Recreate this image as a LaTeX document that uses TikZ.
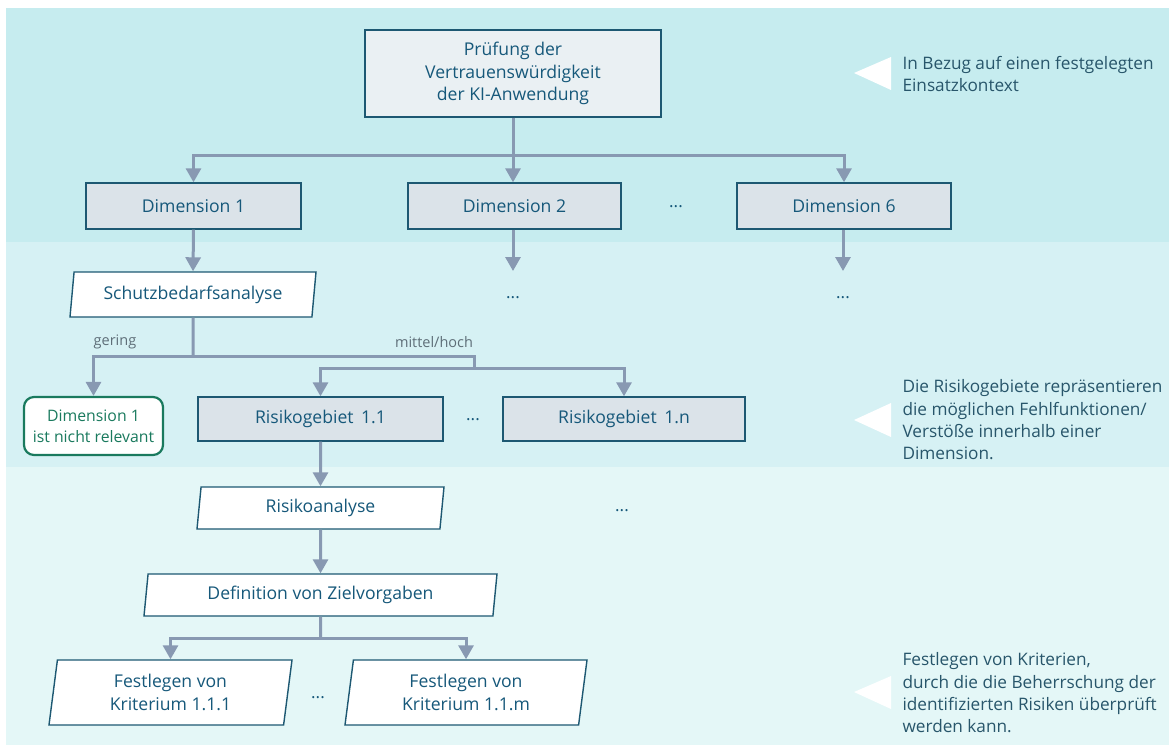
\documentclass[tikz,border=0pt]{standalone}
\usepackage{fontspec}
\setmainfont{Open Sans}
\usetikzlibrary{shapes.geometric,arrows.meta}
\definecolor{bandA}{HTML}{C6ECEF}
\definecolor{bandB}{HTML}{D6F1F4}
\definecolor{bandC}{HTML}{E4F7F7}
\definecolor{txtblue}{HTML}{16587A}
\definecolor{annot}{HTML}{28566B}
\definecolor{bordr}{HTML}{1D5872}
\definecolor{dimfill}{HTML}{DBE3E9}
\definecolor{topfill}{HTML}{EAF0F3}
\definecolor{conn}{HTML}{8899B2}
\definecolor{greentx}{HTML}{1A7A5E}
\definecolor{greylbl}{HTML}{5E6E78}
\tikzset{
  boxtext/.style={font=\fontsize{17.6}{22.8}\selectfont, text=txtblue, align=center},
  rectbox/.style={boxtext, draw=bordr, line width=1.4pt, fill=dimfill, rectangle, inner sep=0pt},
  parbox/.style={boxtext, draw=bordr, line width=1.4pt, fill=white, trapezium,
    trapezium left angle=77, trapezium right angle=103, trapezium stretches body, inner sep=0pt},
  line/.style={draw=conn, line width=3pt},
  arr/.style={line, -{Triangle[width=15pt,length=14pt]}},
  dots/.style={font=\fontsize{17}{20}\selectfont, text=txtblue},
  lbl/.style={font=\fontsize{14.5}{17}\selectfont, text=greylbl},
  note/.style={font=\fontsize{17.2}{22.3}\selectfont, text=annot, align=left, anchor=west},
  tri/.style={fill=white, draw=none},
}
\begin{document}
\begin{tikzpicture}[x=1pt,y=-1pt]
\useasboundingbox (0,0) rectangle (1169,745);
% background bands
\fill[bandA] (6,8) rectangle (1169,242);
\fill[bandB] (6,242) rectangle (1169,467);
\fill[bandC] (6,467) rectangle (1169,745);

% nodes
\node[rectbox, fill=topfill, minimum width=296pt, minimum height=87pt] (top) at (513,73.5)
  {Prüfung der\\Vertrauenswürdigkeit\\der KI-Anwendung};
\node[rectbox, minimum width=215pt, minimum height=46pt] (d1) at (193.5,206) {Dimension 1};
\node[rectbox, minimum width=213pt, minimum height=46pt] (d2) at (514.5,206) {Dimension 2};
\node[rectbox, minimum width=214pt, minimum height=46pt] (d6) at (844,206) {Dimension 6};
\node[dots] (dd) at (676,207) {...};

\node[parbox, minimum width=246pt, minimum height=45pt] (sb) at (193,294.5) {Schutzbedarfsanalyse};
\node[dots] (dots2) at (513,298) {...};
\node[dots] (dots6) at (843,298) {...};

\node[lbl] (lg) at (115,342) {gering};
\node[lbl] (lm) at (434,342) {mittel/hoch};

\node[boxtext, text=greentx, font=\fontsize{15.8}{21}\selectfont, draw=greentx, line width=2.2pt,
  rounded corners=10pt, fill=white, minimum width=139pt, minimum height=58pt, inner sep=0pt] (nr) at (93.5,426)
  {Dimension 1\\ist nicht relevant};
\node[rectbox, minimum width=245pt, minimum height=44pt] (r1) at (320.5,419) {Risikogebiet\, 1.1};
\node[rectbox, minimum width=242pt, minimum height=44pt] (rn) at (624,419) {Risikogebiet\, 1.n};
\node[dots] (rd) at (473,420) {...};

\node[parbox, minimum width=247pt, minimum height=42pt] (ra) at (320.5,508) {Risikoanalyse};
\node[dots] (rad) at (622,511) {...};
\node[parbox, minimum width=353pt, minimum height=42pt] (dz) at (320.5,595) {Definition von Zielvorgaben};
\node[parbox, minimum width=243pt, minimum height=65pt] (f1) at (170.5,692.5) {Festlegen von\\Kriterium 1.1.1};
\node[parbox, minimum width=242pt, minimum height=65pt] (fm) at (466,692.5) {Festlegen von\\Kriterium 1.1.m};
\node[dots] (fd) at (318,698) {...};

% junction coordinates
\coordinate (j1) at (513,155);
\coordinate (e2) at (513,271);
\coordinate (e6) at (843,271);
\coordinate (j2) at (193,356);
\coordinate (j2m) at (474,356);
\coordinate (j3) at (474,368);
\coordinate (j4) at (320.5,638);

% connectors
\draw[line] (top.south) -- (j1);
\draw[arr] (j1) -| (d1.north);
\draw[arr] (j1) -- (d2.north -| j1);
\draw[arr] (j1) -| (d6.north);
\draw[arr] (d1.south) -- (sb.north);
\draw[arr] (d2.south -| e2) -- (e2);
\draw[arr] (d6.south -| e6) -- (e6);
\draw[line] (sb.south) -- (j2);
\draw[arr] (j2) -| (nr.north);
\draw[line] (j2) -- (j2m) -- (j3);
\draw[arr] (j3) -| (r1.north);
\draw[arr] (j3) -| (rn.north);
\draw[arr] (r1.south) -- (ra.north);
\draw[arr] (ra.south) -- (dz.north);
\draw[line] (dz.south) -- (j4);
\draw[arr] (j4) -| (f1.north);
\draw[arr] (j4) -| (fm.north);

% annotations
\fill[tri] (854,73) -- (891,57) -- (891,90) -- cycle;
\node[note] (n1) at (899,74) {In Bezug auf einen festgelegten\\Einsatzkontext};
\fill[tri] (854,420) -- (891,403) -- (891,437) -- cycle;
\node[note] (n2) at (899,420) {Die Risikogebiete repräsentieren\\die möglichen Fehlfunktionen/\\Verstöße innerhalb einer\\Dimension.};
\fill[tri] (854,692) -- (891,676) -- (891,709) -- cycle;
\node[note] (n3) at (899,693) {Festlegen von Kriterien,\\durch die die Beherrschung der\\identifizierten Risiken überprüft\\werden kann.};
\end{tikzpicture}
\end{document}
